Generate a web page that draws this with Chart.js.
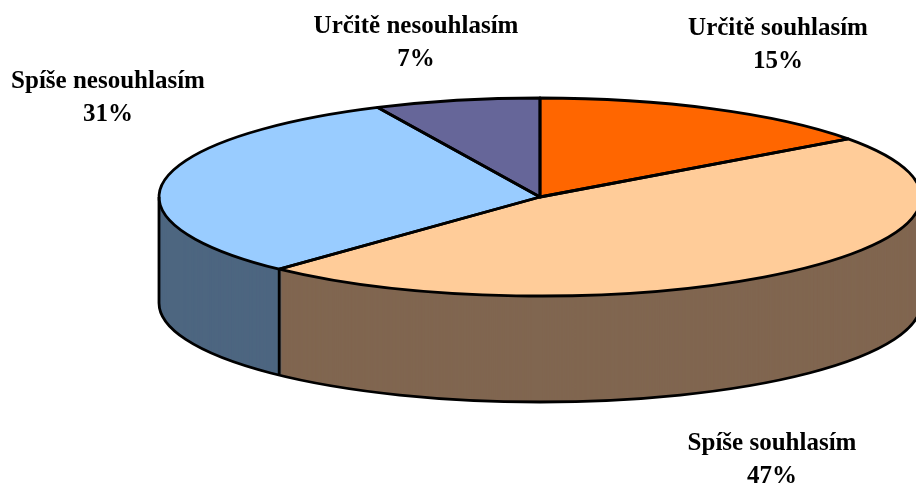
<!DOCTYPE html>
<html>
<head>
<meta charset="utf-8">
<script src="https://cdn.jsdelivr.net/npm/chart.js@4"></script>
<style>
  body { margin: 0; background: #fff; }
  canvas { display: block; }
</style>
</head>
<body>
<canvas id="pie" width="916" height="484"></canvas>
<script>
// Data
const categories = ["Určitě souhlasím", "Spíše souhlasím", "Spíše nesouhlasím", "Určitě nesouhlasím"];
const shares = [15, 47, 31, 7];
const sliceColors = ["#FF6600", "#FFCC99", "#99CCFF", "#666699"];
const wallColors = ["#803300", "#806650", "#4D6680", "#33334D"];

// 3D look of the pie (ellipse centre, radii and thickness on screen)
const pie3d = { cx: 540, cy: 197, rx: 381, ry: 99, depth: 106 };
const labelPos = [[778, 35], [772, 450], [108, 88], [416, 33]];

const pie3dPlugin = {
  id: "pie3d",
  beforeDatasetsDraw(chart) {
    const ctx = chart.ctx;
    const arcs = chart.getDatasetMeta(0).data;
    const dpr = chart.currentDevicePixelRatio || 1;
    const a0 = arcs[0];
    const kx = pie3d.rx / a0.outerRadius;
    const ky = pie3d.ry / a0.outerRadius;

    const place = (dy) => {
      ctx.setTransform(dpr * kx, 0, 0, dpr * ky,
        dpr * (pie3d.cx - kx * a0.x), dpr * (pie3d.cy + dy - ky * a0.y));
    };
    const drawArc = (arc, color) => {
      const bg = arc.options.backgroundColor;
      arc.options.backgroundColor = color;
      arc.draw(ctx);
      arc.options.backgroundColor = bg;
    };

    ctx.save();
    // side walls, deepest layer first
    for (let d = pie3d.depth; d >= 1; d--) {
      place(d);
      arcs.forEach((arc, i) => drawArc(arc, wallColors[i]));
    }
    // top face
    place(0);
    arcs.forEach((arc, i) => drawArc(arc, sliceColors[i]));

    // outlines in screen space
    ctx.setTransform(dpr, 0, 0, dpr, 0, 0);
    ctx.strokeStyle = "#000";
    ctx.lineWidth = 2.8;
    ctx.lineJoin = "round";
    const { cx, cy, rx, ry, depth } = pie3d;

    ctx.beginPath();
    ctx.ellipse(cx, cy + depth, rx, ry, 0, 0, Math.PI);
    ctx.moveTo(cx + rx, cy);
    ctx.lineTo(cx + rx, cy + depth);
    ctx.moveTo(cx - rx, cy);
    ctx.lineTo(cx - rx, cy + depth);
    arcs.forEach((arc) => {
      let a = arc.startAngle % (2 * Math.PI);
      if (a < 0) a += 2 * Math.PI;
      if (a > 0 && a < Math.PI) {
        const x = cx + rx * Math.cos(a);
        const y = cy + ry * Math.sin(a);
        ctx.moveTo(x, y);
        ctx.lineTo(x, y + depth);
      }
    });
    ctx.stroke();

    arcs.forEach((arc) => {
      ctx.beginPath();
      ctx.moveTo(cx, cy);
      ctx.ellipse(cx, cy, rx, ry, 0, arc.startAngle, arc.endAngle);
      ctx.closePath();
      ctx.stroke();
    });
    ctx.restore();
    return false;
  },
  afterDraw(chart) {
    const ctx = chart.ctx;
    ctx.save();
    ctx.fillStyle = "#000";
    ctx.font = "bold 25px 'Liberation Serif', 'Times New Roman', serif";
    ctx.textAlign = "center";
    ctx.textBaseline = "alphabetic";
    categories.forEach((name, i) => {
      const [x, y] = labelPos[i];
      ctx.fillText(name, x, y);
      ctx.fillText(shares[i] + "%", x, y + 33);
    });
    ctx.restore();
  }
};

new Chart(document.getElementById("pie"), {
  type: "pie",
  data: {
    labels: categories,
    datasets: [{
      data: shares,
      backgroundColor: sliceColors,
      borderWidth: 0
    }]
  },
  options: {
    responsive: false,
    animation: false,
    layout: { padding: 0 },
    plugins: {
      legend: { display: false },
      tooltip: { enabled: false }
    }
  },
  plugins: [pie3dPlugin]
});
</script>
</body>
</html>
